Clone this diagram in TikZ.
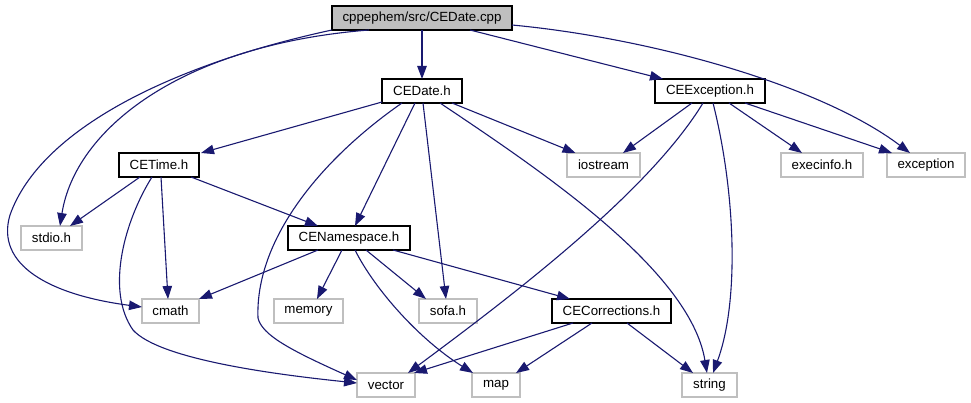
\documentclass[tikz,border=0pt]{standalone}
\usepackage{fontspec}
\setmainfont{Liberation Sans}
\usetikzlibrary{arrows.meta,calc}
\definecolor{edgeblue}{HTML}{191970}
\definecolor{boxgray}{HTML}{BFBFBF}
\begin{document}
\begin{tikzpicture}[x=1pt,y=-1pt,
  box/.style={draw=black, line width=1.3pt, minimum height=24pt, inner sep=0pt, outer sep=0pt,
    font=\fontsize{13.3}{16}\selectfont, fill=white},
  extbox/.style={box, draw=boxgray},
  rootbox/.style={box, fill=boxgray},
  dep/.style={draw=edgeblue, line width=1.1pt, -{Triangle[length=13pt,width=9.5pt]}}
]
\useasboundingbox (0,0) rectangle (971,403);

\node[rootbox, minimum width=180pt] (root) at (422,18) {cppephem/src/CEDate.cpp};
\node[box, minimum width=80pt]  (ced) at (422,91)  {CEDate.h};
\node[box, minimum width=110pt] (cee) at (710,91)  {CEException.h};
\node[box, minimum width=80pt]  (cet) at (159,165) {CETime.h};
\node[extbox, minimum width=73pt] (ios) at (603.5,165) {iostream};
\node[extbox, minimum width=82pt] (exi) at (822,165) {execinfo.h};
\node[extbox, minimum width=78pt] (exc) at (926,165) {exception};
\node[extbox, minimum width=61pt] (std) at (51.5,238) {stdio.h};
\node[box, minimum width=122pt] (cen) at (349,238) {CENamespace.h};
\node[extbox, minimum width=57pt] (cma) at (170.5,311) {cmath};
\node[extbox, minimum width=69pt] (mem) at (308.5,311) {memory};
\node[extbox, minimum width=58pt] (sof) at (448,311) {sofa.h};
\node[box, minimum width=119pt] (cec) at (611.5,311) {CECorrections.h};
\node[extbox, minimum width=58pt] (vec) at (386,385) {vector};
\node[extbox, minimum width=48pt] (map) at (496,385) {map};
\node[extbox, minimum width=55pt] (str) at (709.5,385) {string};

% root
\draw[dep] (root.south) -- (ced.north);
\draw[dep] ($(root.south)+(48,0)$) -- ($(cee.north)+(-47,0)$);
\draw[dep] ($(root.east)+(0,7)$) .. controls (650,38) and (820,85) .. ($(exc.north)+(-16,0)$);
\draw[dep] ($(root.south)+(-53,0)$) .. controls (180,45) and (75,130) .. ($(std.north)+(8.5,0)$);
\draw[dep] (root.south west) .. controls (170,65) and (40,130) .. (10,215)
   .. controls (-5,265) and (50,295) .. ($(cma.west)+(0,-4)$);

% CEDate.h
\draw[dep] ($(ced.west)+(0,11)$) -- ($(cet.north)+(42,0)$);
\draw[dep] ($(ced.south)+(-20,0)$) .. controls (320,160) and (255,240) .. (258,318)
   .. controls (262,335) and (290,350) .. ($(vec.west)+(0,-5)$);
\draw[dep] ($(ced.south)+(-7,0)$) -- ($(cen.north)+(6,0)$);
\draw[dep] ($(ced.south)+(1,0)$) -- ($(sof.north)+(-2,0)$);
\draw[dep] ($(ced.south)+(30,0)$) -- ($(ios.north)+(-28,0)$);
\draw[dep] ($(ced.south)+(18,0)$) .. controls (540,170) and (690,270) .. ($(str.north)+(-2.5,0)$);

% CEException.h
\draw[dep] ($(cee.south)+(-18,0)$) -- ($(ios.north)+(19.5,0)$);
\draw[dep] ($(cee.south)+(-7,0)$) .. controls (650,190) and (520,290) .. ($(vec.north)+(22,0)$);
\draw[dep] ($(cee.south)+(3,0)$) .. controls (735,190) and (740,300) .. ($(str.north)+(3.5,0)$);
\draw[dep] ($(cee.south)+(19,0)$) -- ($(exi.north)+(-20,0)$);
\draw[dep] ($(cee.south)+(35,0)$) -- ($(exc.north)+(-34,0)$);

% CETime.h
\draw[dep] ($(cet.south)+(-19,0)$) -- ($(std.north)+(18.5,0)$);
\draw[dep] ($(cet.south)+(-7,0)$) .. controls (125,220) and (105,290) .. (133,330)
   .. controls (160,360) and (280,375) .. ($(vec.west)+(0,-2)$);
\draw[dep] ($(cet.south)+(2,0)$) -- ($(cma.north)+(-2.5,0)$);
\draw[dep] ($(cet.south)+(32,0)$) -- ($(cen.north)+(-31,0)$);

% CENamespace.h
\draw[dep] ($(cen.south)+(-31,0)$) -- (cma.north east);
\draw[dep] ($(cen.south)+(-7,0)$) -- ($(mem.north)+(8.5,0)$);
\draw[dep] ($(cen.south)+(17,0)$) -- ($(sof.north)+(-22,0)$);
\draw[dep] ($(cen.south)+(6,0)$) .. controls (375,290) and (420,340) .. ($(map.north)+(-23,0)$);
\draw[dep] ($(cen.south)+(44,0)$) -- ($(cec.north)+(-41.5,0)$);

% CECorrections.h
\draw[dep] ($(cec.south)+(-38.5,0)$) -- ($(vec.north)+(28,0)$);
\draw[dep] ($(cec.south)+(-19.5,0)$) -- ($(map.north)+(20,0)$);
\draw[dep] ($(cec.south)+(15.5,0)$) -- ($(str.north)+(-16.5,0)$);
\end{tikzpicture}
\end{document}
